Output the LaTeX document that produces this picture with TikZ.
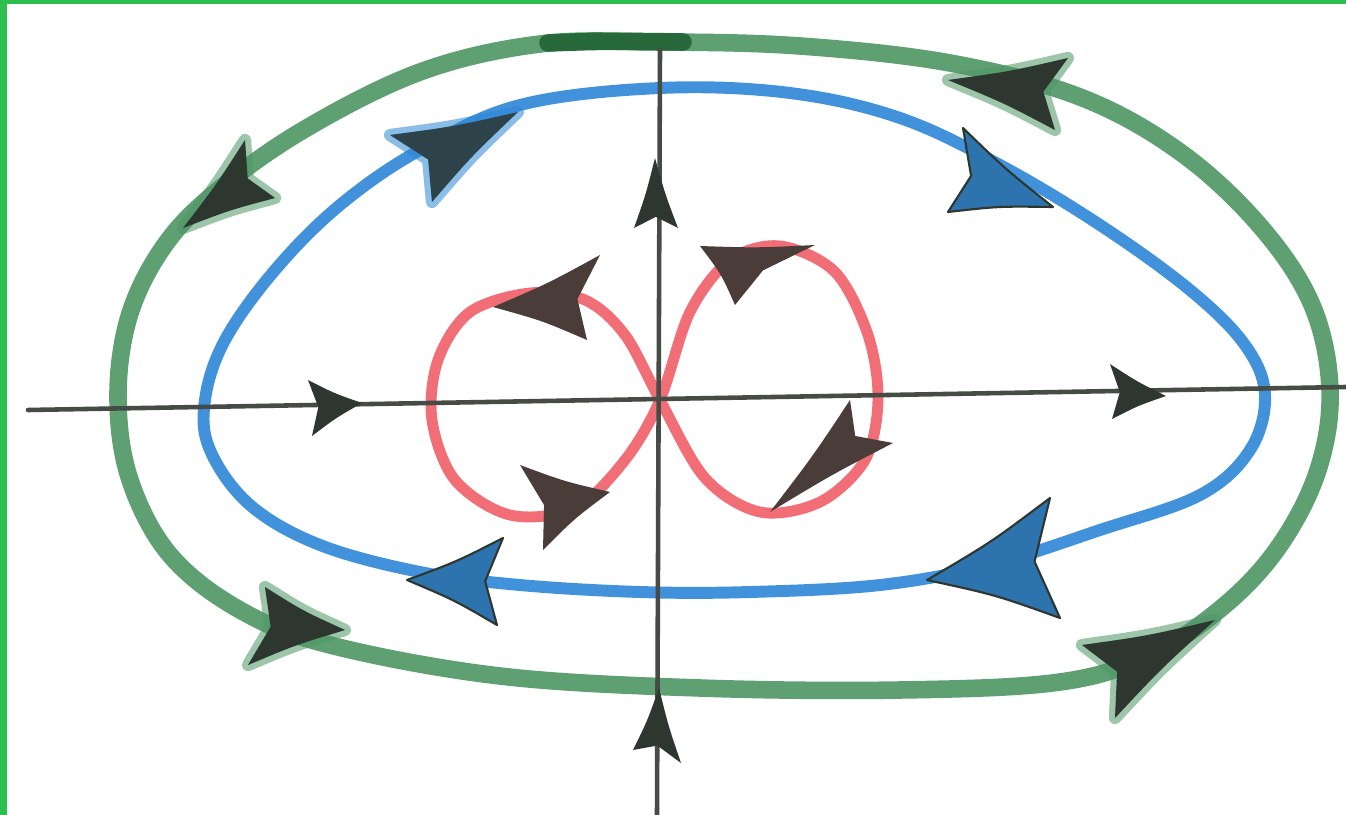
\documentclass[tikz,border=0pt]{standalone}
\usetikzlibrary{calc}
\definecolor{greenc}{RGB}{78,150,100}
\definecolor{greendark}{RGB}{40,105,60}
\definecolor{bluec}{RGB}{45,135,215}
\definecolor{redc}{RGB}{240,95,105}
\definecolor{darkc}{RGB}{45,55,48}
\definecolor{axisc}{RGB}{70,75,70}
\definecolor{borderc}{RGB}{45,190,80}
\newcommand\dart[4]{%
  \coordinate (dT) at #1; \coordinate (dA) at #2; \coordinate (dB) at #3;
  \coordinate (dM) at ($0.3333*(dT)+0.3333*(dA)+0.3333*(dB)$);
  \fill[#4] (dT) .. controls ($(dT)!0.5!(dA)!0.12!(dM)$) .. (dA)
     -- ($(dA)!0.5!(dB)!0.16!(dT)$) -- (dB)
     .. controls ($(dT)!0.5!(dB)!0.12!(dM)$) .. (dT) -- cycle;}
\tikzset{
  loopline/.style={line width=#1, line cap=round, line join=round, opacity=0.9},
  axisline/.style={axisc, line width=2.6pt, line cap=round},
  halo/.style={draw=#1, fill=#1, line width=7pt, line join=round, opacity=0.55},
  darkhead/.style={fill=darkc},
  bluehead/.style={fill=bluec!75!darkc, draw=darkc, line width=1.2pt, line join=round},
}
\begin{document}
\begin{tikzpicture}[x=0.02cm, y=-0.02cm]
\useasboundingbox (0,0) rectangle (1346,815);
\fill[white] (0,0) rectangle (1346,815);
% border
\fill[borderc] (0,0) rectangle (7,815);
\fill[borderc] (0,0) rectangle (1346,4);
% green outer loop
\draw[greenc, loopline=10pt] plot[smooth cycle, tension=0.6] coordinates {
 (660,42) (800,46) (950,63) (1080,97) (1180,152) (1260,226) (1312,305) (1330,390)
 (1318,470) (1280,545) (1225,605) (1150,655) (1060,682) (900,690) (700,688)
 (500,676) (330,645) (240,610) (170,555) (130,480) (118,400) (128,320) (160,252)
 (210,197) (300,132) (420,72) (540,44)};
\draw[greendark, line width=10pt, line cap=round] (548,43) .. controls (600,41) .. (683,42);
% blue loop
\draw[bluec, loopline=6.8pt] plot[smooth cycle, tension=0.6] coordinates {
 (660,88) (790,93) (900,118) (1000,165) (1100,225) (1190,290) (1245,345) (1265,395)
 (1250,450) (1200,495) (1100,530) (990,565) (880,585) (750,592) (640,592) (520,585)
 (420,572) (320,545) (250,505) (210,450) (205,400) (225,340) (275,270) (340,205)
 (420,150) (520,105)};
% red figure eight
\draw[redc, loopline=6.2pt] plot[smooth cycle, tension=0.55] coordinates {
 (660,400) (690,312) (730,260) (780,246) (835,272) (868,335) (878,400) (865,460)
 (820,502) (760,512) (705,478) (660,400) (625,335) (585,300) (530,293) (470,312)
 (438,360) (432,420) (455,480) (510,515) (575,508) (625,460)};
% axes
\coordinate (xl) at (28,410); \coordinate (xr) at (1346,387);
\coordinate (yt) at (660,50); \coordinate (yb) at (657,815);
\draw[axisline] (xl) -- (xr);
\draw[axisline] (yt) -- (yb);
% axis arrows
\dart{(655,158)}{(634,228)}{(678,228)}{darkhead}
\dart{(659,688)}{(633,750)}{(681,763)}{darkhead}
\dart{(362,403)}{(308,380)}{(312,436)}{darkhead}
\dart{(1166,396)}{(1110,364)}{(1112,419)}{darkhead}
% green arrows
\dart{(183,228)}{(245,140)}{(275,198)}{halo=greenc}
\dart{(183,228)}{(245,140)}{(275,198)}{darkhead}
\dart{(948,80)}{(1068,58)}{(1055,130)}{halo=greenc}
\dart{(948,80)}{(1068,58)}{(1055,130)}{darkhead}
\dart{(345,630)}{(265,587)}{(248,665)}{halo=greenc}
\dart{(345,630)}{(265,587)}{(248,665)}{darkhead}
\dart{(1215,620)}{(1082,645)}{(1115,718)}{halo=greenc}
\dart{(1215,620)}{(1082,645)}{(1115,718)}{darkhead}
% blue arrows
\dart{(518,112)}{(390,135)}{(432,202)}{halo=bluec}
\dart{(518,112)}{(390,135)}{(432,202)}{fill=darkc!85!bluec}
\dart{(1053,207)}{(963,128)}{(948,212)}{bluehead}
\dart{(927,580)}{(1050,498)}{(1060,618)}{bluehead}
\dart{(407,580)}{(503,538)}{(497,625)}{bluehead}
% red arrows
\dart{(493,307)}{(600,255)}{(587,340)}{fill=darkc!85!redc}
\dart{(610,492)}{(520,465)}{(543,550)}{fill=darkc!85!redc}
\dart{(700,246)}{(815,245)}{(735,305)}{fill=darkc!85!redc}
\dart{(770,512)}{(850,400)}{(893,443)}{fill=darkc!85!redc}
\end{tikzpicture}
\end{document}
